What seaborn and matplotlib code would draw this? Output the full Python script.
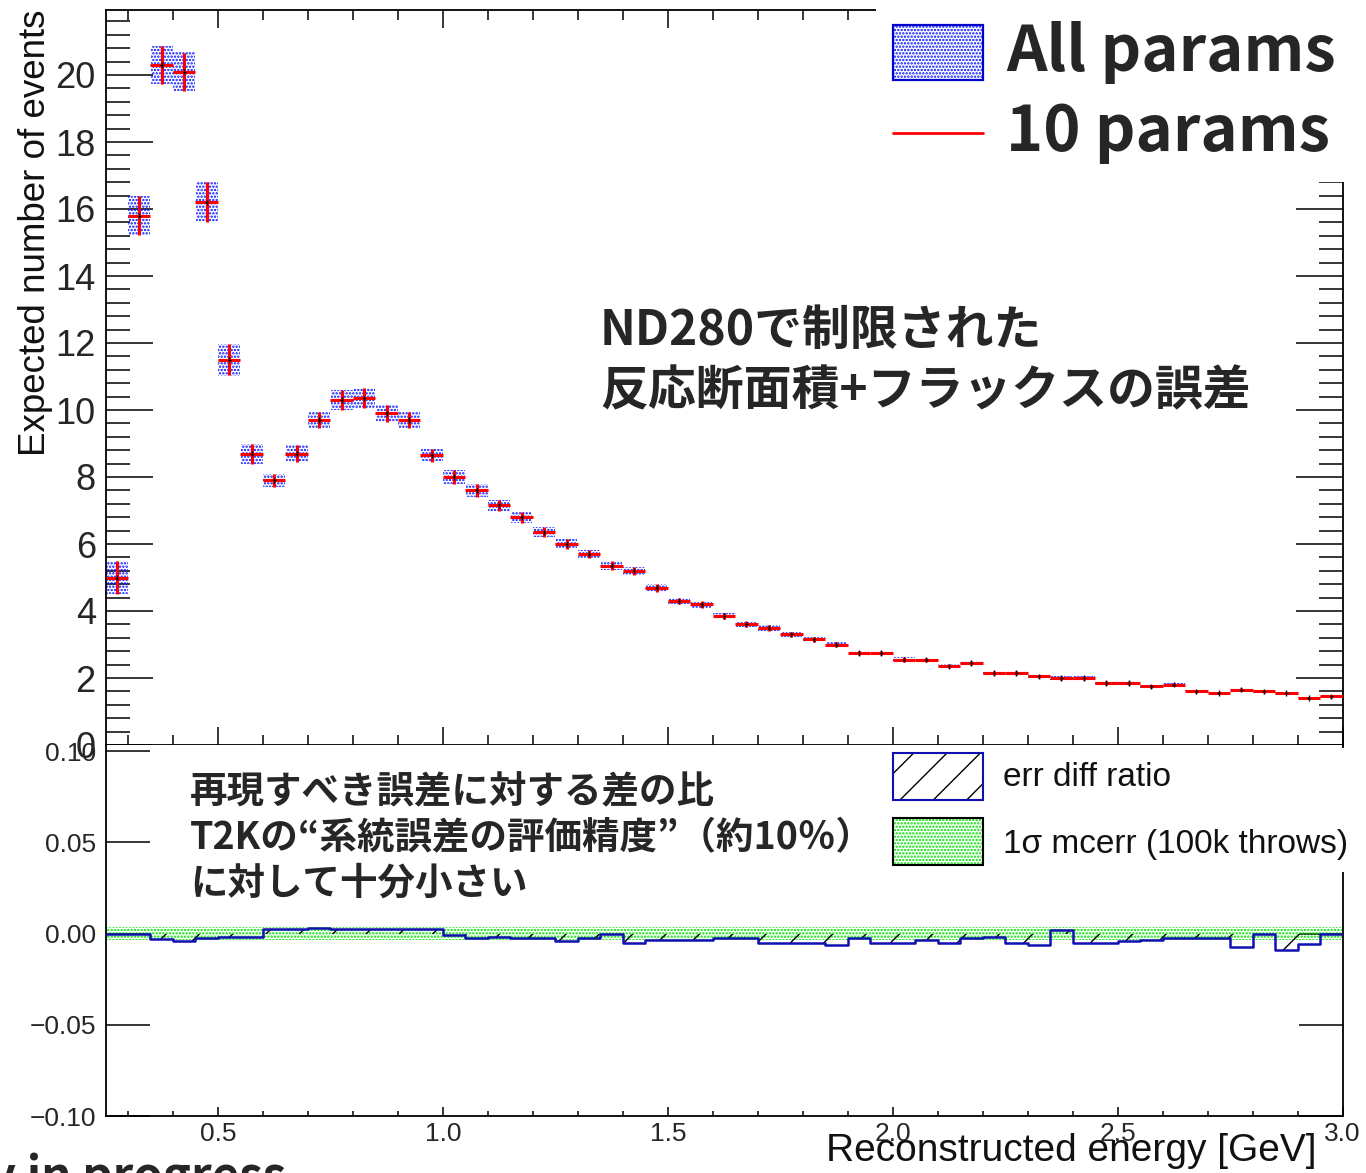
import numpy as np
import pandas as pd
import matplotlib
matplotlib.use("Agg")
import matplotlib.pyplot as plt
import seaborn as sns
from matplotlib.patches import Rectangle
from matplotlib.lines import Line2D
from matplotlib.ticker import MultipleLocator, FuncFormatter

# ---------------- data ----------------
bin_lo = np.round(np.arange(0.25, 3.0 - 1e-9, 0.05), 3)   # lower bin edges (GeV)
bin_w = 0.05

expected_events = [5.0, 15.8, 20.3, 20.1, 16.2, 11.5, 8.7, 7.9, 8.7, 9.7,
                   10.3, 10.35, 9.9, 9.7, 8.65, 8.0, 7.6, 7.15, 6.8, 6.35,
                   6.0, 5.7, 5.35, 5.2, 4.7, 4.3, 4.2, 3.85, 3.6, 3.5,
                   3.3, 3.15, 3.0, 2.75, 2.75, 2.55, 2.55, 2.35, 2.45, 2.15,
                   2.15, 2.05, 2.0, 2.0, 1.85, 1.85, 1.75, 1.8, 1.6, 1.55,
                   1.65, 1.6, 1.55, 1.4, 1.45]

err_all_params = [0.48, 0.58, 0.58, 0.58, 0.6, 0.48, 0.3, 0.2, 0.25, 0.25,
                  0.3, 0.3, 0.25, 0.25, 0.2, 0.2, 0.19, 0.17, 0.17, 0.15,
                  0.15, 0.13, 0.13, 0.12, 0.12, 0.1, 0.1, 0.1, 0.09, 0.09,
                  0.08, 0.08, 0.08, 0.07, 0.07, 0.07, 0.06, 0.06, 0.06, 0.06,
                  0.06, 0.05, 0.05, 0.05, 0.05, 0.05, 0.05, 0.05, 0.04, 0.04,
                  0.04, 0.04, 0.04, 0.04, 0.04]

err_10_params = [0.48, 0.58, 0.57, 0.57, 0.6, 0.47, 0.3, 0.2, 0.25, 0.25,
                 0.3, 0.3, 0.25, 0.25, 0.2, 0.2, 0.19, 0.17, 0.17, 0.15,
                 0.15, 0.13, 0.13, 0.12, 0.12, 0.1, 0.1, 0.1, 0.09, 0.09,
                 0.08, 0.08, 0.08, 0.07, 0.07, 0.07, 0.06, 0.06, 0.06, 0.06,
                 0.06, 0.05, 0.05, 0.05, 0.05, 0.05, 0.05, 0.05, 0.04, 0.04,
                 0.04, 0.04, 0.04, 0.04, 0.04]

err_diff_ratio = [0.0, 0.0, -0.0028, -0.0042, -0.0026, -0.002, -0.002, 0.0022, 0.0022, 0.003,
                  0.0022, 0.0022, 0.0022, 0.0022, 0.0022, -0.0006, -0.0022, -0.002, -0.0022, -0.0022,
                  -0.004, -0.0022, -0.0003, -0.005, -0.0036, -0.0036, -0.0036, -0.0022, -0.0022, -0.005,
                  -0.005, -0.005, -0.0062, -0.0022, -0.005, -0.005, -0.0037, -0.005, -0.0022, -0.002,
                  -0.005, -0.0062, 0.0018, -0.005, -0.005, -0.004, -0.0037, -0.0022, -0.0022, -0.0022,
                  -0.0075, 0.0, -0.0088, -0.0058, 0.0]

mc_err_1sigma = [0.0038, 0.0038, 0.0038, 0.0038, 0.0038, 0.0038, 0.0038, 0.0038, 0.0038, 0.0038,
                 0.0038, 0.0038, 0.0038, 0.0038, 0.0038, 0.0038, 0.0038, 0.0038, 0.0038, 0.0038,
                 0.0038, 0.0038, 0.0038, 0.0038, 0.0038, 0.0038, 0.0038, 0.0038, 0.0038, 0.0038,
                 0.0038, 0.0038, 0.0038, 0.0038, 0.0038, 0.0038, 0.0038, 0.0038, 0.0038, 0.0038,
                 0.0038, 0.0038, 0.0038, 0.0038, 0.0038, 0.0038, 0.0038, 0.0038, 0.0038, 0.0038,
                 0.0038, 0.0038, 0.0038, 0.0038, 0.0038]

# ---------------- style ----------------
sns.set_style("ticks")
plt.rcParams["font.family"] = ["Liberation Sans", "DejaVu Sans"]
plt.rcParams["axes.unicode_minus"] = True
JP = ["Noto Sans CJK JP", "DejaVu Sans"]
DOT_LW = 1.15
SLASH_LW = 1.0
DOTS = "....."
BLUE_DOT = "#0010ff"
GREEN_DOT = "#00e000"

W, H = 1366, 1173
fig = plt.figure(figsize=(W / 100, H / 100), dpi=100)


def fx(px):
    return px / W


def fy(py):
    return 1 - py / H


L, R = 105.5, 1342.5
ax1 = fig.add_axes([fx(L), fy(745), (R - L) / W, (745 - 10) / H])
ax2 = fig.add_axes([fx(L), fy(1116), (R - L) / W, (1116 - 745) / H])
ax1.set_zorder(1)
ax2.set_zorder(2)

df = pd.DataFrame({
    "center": bin_lo + bin_w / 2,
    "events": expected_events,
    "err_all": err_all_params,
    "err_10": err_10_params,
})

# ---- top panel ----
with plt.rc_context({"hatch.linewidth": DOT_LW}):
    ax1.bar(df["center"], 2 * df["err_all"], bottom=df["events"] - df["err_all"],
            width=bin_w * 0.97, facecolor="none", edgecolor=BLUE_DOT,
            hatch=DOTS, linewidth=0, zorder=2)
ax1.errorbar(df["center"], df["events"], xerr=bin_w / 2, yerr=df["err_10"],
             fmt="none", ecolor="red", elinewidth=2.2, capsize=0, zorder=3)
ax1.errorbar(df["center"], df["events"], xerr=0.003, yerr=0.08,
             fmt="none", ecolor="black", elinewidth=1.0, capsize=0, zorder=4)

ax1.set_xlim(0.25, 3.0)
ax1.set_ylim(0, (745 - 10) / 33.5)
ax1.yaxis.set_major_locator(MultipleLocator(2))
ax1.yaxis.set_minor_locator(MultipleLocator(0.4))
ax1.xaxis.set_major_locator(MultipleLocator(0.5))
ax1.xaxis.set_minor_locator(MultipleLocator(0.1))
ax1.tick_params(axis="y", which="major", direction="in", length=34, width=1.3,
                left=True, right=True, labelsize=26, pad=7)
ax1.tick_params(axis="y", which="minor", direction="in", length=17, width=1.3,
                left=True, right=True)
ax1.tick_params(axis="x", which="major", direction="in", length=13, width=1.3,
                top=True, bottom=True, labelbottom=False)
ax1.tick_params(axis="x", which="minor", direction="in", length=7, width=1.3,
                top=True, bottom=True)
for s in ax1.spines.values():
    s.set_linewidth(1.3)
    s.set_color("black")
ax1.set_xlabel("")
ax1.set_ylabel("")

# ---- bottom panel ----
edges_ext = np.append(bin_lo, 3.0)
diff_ext = np.append(err_diff_ratio, err_diff_ratio[-1])
mc_ext = np.append(mc_err_1sigma, mc_err_1sigma[-1])

with plt.rc_context({"hatch.linewidth": DOT_LW}):
    ax2.fill_between(edges_ext, -mc_ext, mc_ext, step="post", facecolor="none",
                     edgecolor=GREEN_DOT, hatch=DOTS, linewidth=0, zorder=1)
with plt.rc_context({"hatch.linewidth": SLASH_LW}):
    ax2.fill_between(edges_ext, 0, diff_ext, step="post", facecolor="none",
                     edgecolor="black", hatch="/", linewidth=0, zorder=2)
step_df = pd.DataFrame({"E": edges_ext, "ratio": diff_ext})
sns.lineplot(data=step_df, x="E", y="ratio", drawstyle="steps-post",
             color="#1010b0", linewidth=1.8, estimator=None, sort=False,
             ax=ax2, zorder=3)

ax2.set_xlim(0.25, 3.0)
ax2.set_ylim(-0.10, 0.10 + 6 / 1825)
ax2.yaxis.set_major_locator(MultipleLocator(0.05))
ax2.yaxis.set_major_formatter(
    FuncFormatter(lambda v, p: f"{v:.2f}".replace("-", "\u2212")))
ax2.xaxis.set_major_locator(MultipleLocator(0.5))
ax2.xaxis.set_minor_locator(MultipleLocator(0.1))
ax2.tick_params(axis="y", which="major", direction="in", length=32, width=1.3,
                left=True, right=True, labelsize=19, pad=7)
ax2.tick_params(axis="x", which="major", direction="in", length=6.5, width=1.3,
                top=False, bottom=True, labelsize=19, pad=4)
ax2.tick_params(axis="x", which="minor", direction="in", length=3.6, width=1.3,
                top=False, bottom=True)
ax2.spines["top"].set_visible(False)
for s in ("left", "right", "bottom"):
    ax2.spines[s].set_linewidth(1.3)
    ax2.spines[s].set_color("black")
ax2.set_xlabel("")
ax2.set_ylabel("")

# ---- axis titles ----
fig.text(fx(36), fy(10), "Expected number of events", rotation=90,
         ha="center", va="top", fontsize=26.5, color="#111111")
fig.text(fx(1316), fy(1161), "Reconstructed energy [GeV]", ha="right",
         va="baseline", fontsize=28, color="#111111")

# ---- top legend ----
fig.add_artist(Rectangle((fx(876), fy(182)), (W - 876) / W, 182 / H,
                         transform=fig.transFigure, facecolor="white",
                         edgecolor="none", zorder=5))
with plt.rc_context({"hatch.linewidth": DOT_LW}):
    fig.add_artist(Rectangle((fx(893), fy(80)), 90 / W, 55 / H,
                             transform=fig.transFigure, facecolor="white",
                             edgecolor=BLUE_DOT, hatch=DOTS, linewidth=0,
                             zorder=6))
fig.add_artist(Rectangle((fx(893), fy(80)), 90 / W, 55 / H,
                         transform=fig.transFigure, facecolor="none",
                         edgecolor="#0000cc", linewidth=1.6, zorder=7))
fig.add_artist(Line2D([fx(893), fx(983)], [fy(133), fy(133)],
                      transform=fig.transFigure, color="red", linewidth=2,
                      zorder=6))
fig.text(fx(1006), fy(53), "All params", ha="left", va="center",
         fontsize=45.5, fontweight="bold", family=JP, zorder=7)
fig.text(fx(1006), fy(133), "10 params", ha="left", va="center",
         fontsize=45.5, fontweight="bold", family=JP, zorder=7)

# ---- bottom legend ----
fig.add_artist(Rectangle((fx(880), fy(872)), (W - 880) / W, (872 - 748) / H,
                         transform=fig.transFigure, facecolor="white",
                         edgecolor="none", zorder=5))
with plt.rc_context({"hatch.linewidth": SLASH_LW}):
    fig.add_artist(Rectangle((fx(893), fy(800)), 90 / W, 47 / H,
                             transform=fig.transFigure, facecolor="white",
                             edgecolor="black", hatch="/", linewidth=0, zorder=6))
fig.add_artist(Rectangle((fx(893), fy(800)), 90 / W, 47 / H,
                         transform=fig.transFigure, facecolor="none",
                         edgecolor="#1010b0", linewidth=1.5, zorder=7))
with plt.rc_context({"hatch.linewidth": DOT_LW}):
    fig.add_artist(Rectangle((fx(893), fy(865)), 90 / W, 47 / H,
                             transform=fig.transFigure, facecolor="white",
                             edgecolor=GREEN_DOT, hatch=DOTS, linewidth=0,
                             zorder=6))
fig.add_artist(Rectangle((fx(893), fy(865)), 90 / W, 47 / H,
                         transform=fig.transFigure, facecolor="none",
                         edgecolor="black", linewidth=1.5, zorder=7))
fig.text(fx(1003), fy(778), "err diff ratio", ha="left", va="center",
         fontsize=24, color="#111111", zorder=8)
fig.text(fx(1003), fy(845), "1σ mcerr (100k throws)", ha="left", va="center",
         fontsize=24, color="#111111", zorder=8)

# ---- annotations ----
fig.text(fx(600), fy(306), "ND280で制限された\n反応断面積+フラックスの誤差",
         ha="left", va="top", fontsize=34.5, fontweight="bold", family=JP,
         linespacing=1.3, zorder=8)
fig.text(fx(190), fy(772),
         "再現すべき誤差に対する差の比\nT2Kの“系統誤差の評価精度”（約10％）\nに対して十分小さい",
         ha="left", va="top", fontsize=27, fontweight="bold", family=JP,
         linespacing=1.22, zorder=8)
fig.text(fx(-121), fy(1191), "Study in progress", ha="left", va="baseline",
         fontsize=34, fontweight="bold", family=JP, zorder=8)

fig.savefig("out.png", dpi=100)
